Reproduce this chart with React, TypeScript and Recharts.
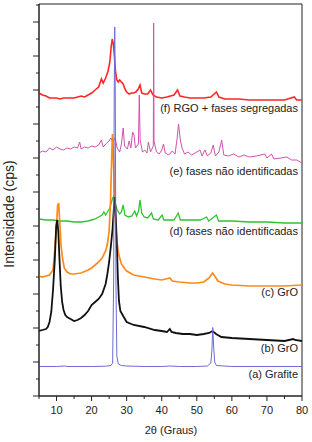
import React from 'react';
import { LineChart, Line, XAxis, YAxis, ReferenceArea } from 'recharts';

const FONT = '"Liberation Sans", Arial, Helvetica, sans-serif';
const INK = '#222';

// 2θ axis
const thetaTicks = [5, 10, 15, 20, 25, 30, 35, 40, 45, 50, 55, 60, 65, 70, 75, 80];
// intensity axis (no labels, arbitrary counts)
const intensityTicks = [0, 17, 34, 51, 68, 85, 102, 119, 136, 153, 170, 187, 204, 221, 238, 255, 272, 289, 306, 323, 340, 357, 374, 391];

// (a) Grafite
const grafiteTheta = [5, 10, 12.5, 13, 15, 20, 24, 25.5, 26, 26.3, 26.45, 26.6, 26.75, 26.95, 27.2, 27.6, 28.5, 30, 35, 40, 42.3, 45, 50, 53, 54, 54.3, 54.55, 54.8, 55.1, 55.6, 60, 70, 80];
const grafiteCps = [29.5, 29.5, 30, 29.5, 29.5, 29.5, 29.8, 30.5, 33, 120, 300, 369, 300, 110, 40, 32, 30.5, 30, 29.5, 29.5, 30, 29.5, 29.5, 30, 33, 45, 68.5, 50, 34, 30.5, 29.5, 29.5, 29.5];

// (b) GrO
const groBTheta = [5, 6, 7, 7.5, 8, 8.5, 9, 9.5, 9.9, 10.2, 10.5, 10.8, 11.2, 11.6, 12, 12.5, 13, 14, 15, 16, 17, 18, 19, 20, 21, 22, 23, 24, 24.5, 25, 25.5, 26, 26.3, 26.6, 26.9, 27.2, 27.5, 27.8, 28.2, 29, 30, 32, 35, 38, 40, 41.5, 42.3, 42.8, 44, 46, 48, 50, 52, 53.5, 54.5, 55.5, 57, 60, 65, 70, 75, 77.5, 78, 80];
const groBCps = [65, 66, 67, 69, 74, 84, 106, 136, 170, 176, 165, 140, 110, 94, 86, 81, 79, 77, 75, 76, 78, 81, 85, 91, 94, 97, 102, 112, 122, 134, 150, 168, 185, 199, 180, 150, 118, 95, 85, 80, 74, 71, 69, 66, 65, 64, 67, 64, 63, 62, 62, 61, 62, 63, 65, 62, 59, 58, 57, 56, 55, 57, 56, 55];

// (c) GrO
const groCTheta = [5, 6, 7, 8, 9, 9.5, 10, 10.3, 10.6, 10.9, 11.3, 11.7, 12.2, 13, 14, 15, 17, 19, 20, 21, 22, 23, 24, 24.5, 25, 25.4, 25.7, 25.95, 26.2, 26.5, 26.8, 27.2, 27.7, 28.5, 29.5, 30, 32, 35, 38, 40, 42.3, 43, 45, 48, 50, 52, 53.5, 54.5, 55.3, 56, 58, 60, 65, 70, 75, 80];
const groCCps = [120, 119, 120, 121, 126, 146, 170, 190, 193, 175, 150, 138, 128, 124, 122, 122, 123, 126, 128, 131, 134, 138, 145, 152, 165, 195, 235, 262, 240, 205, 175, 155, 142, 132, 127, 125, 121, 119, 117, 116, 118, 115, 114, 113, 113, 114, 118, 123, 119, 115, 112, 111, 110, 110, 110, 111];

// (d) fases não identificadas
const faseDTheta = [5, 7, 9, 11, 13, 15, 17, 19, 20, 21, 22, 23, 23.5, 24, 24.7, 25.2, 25.6, 26, 26.4, 26.8, 27.3, 28, 28.5, 29, 29.5, 30.5, 31.5, 32.3, 32.8, 33.4, 33.8, 34.3, 35, 36, 37.1, 37.6, 39, 40.1, 40.6, 42, 43.5, 44.7, 45.3, 47, 49, 51, 52.8, 53.4, 55.6, 56.2, 58, 60, 65, 70, 75, 80];
const faseDCps = [177, 176, 176, 175, 175, 174, 174, 175, 176, 177, 179, 181, 184, 181, 185, 188, 193, 198, 200, 192, 186, 182, 184, 191, 181, 179, 180, 185, 180, 185, 196, 183, 179, 178, 183, 177, 176, 181, 176, 176, 176, 183, 176, 176, 176, 176, 179, 175, 181, 175, 175, 175, 174, 174, 173, 173];

// (e) fases não identificadas
const faseETheta = [5, 6, 7, 8, 9, 10, 11, 12, 13, 14, 15, 16, 16.6, 17, 18, 19, 20, 21, 22, 22.8, 23.3, 24, 25, 25.5, 26, 26.7, 27.3, 28, 28.5, 29, 29.4, 30.2, 30.7, 31.2, 31.7, 32.1, 32.5, 33.35, 33.6, 33.85, 34.5, 35.2, 35.8, 36.2, 36.8, 37.6, 37.7, 37.8, 38.5, 39.3, 40, 40.5, 41, 42, 43, 43.8, 44.4, 44.8, 45.3, 45.8, 46.5, 47.5, 48.5, 49.5, 50.9, 51.5, 52.3, 53, 54, 54.7, 55.3, 56.3, 57.1, 57.7, 59, 60.5, 62, 63.5, 65, 67, 69.4, 70, 71.3, 72, 74, 75.7, 77, 78.5, 80];
const faseECps = [243, 245, 244, 248, 246, 249, 247, 246, 248, 247, 249, 248, 254, 247, 249, 248, 250, 249, 251, 256, 249, 252, 255, 258, 254, 258, 248, 244, 252, 268, 250, 247, 255, 248, 264, 261, 248, 252, 301, 256, 244, 246, 243, 254, 244, 250, 373, 255, 244, 242, 246, 252, 243, 241, 245, 242, 258, 272, 256, 248, 242, 244, 241, 243, 246, 240, 246, 240, 243, 251, 240, 244, 256, 241, 240, 242, 239, 241, 239, 240, 242, 238, 242, 237, 238, 239, 236, 236, 233];

// (f) RGO + fases segregadas
const rgoTheta = [5, 6, 7, 8, 9, 10, 11, 12, 13, 14, 15, 16, 17, 18, 19, 20, 21, 22, 22.8, 23.3, 24, 24.7, 25.2, 25.6, 25.9, 26.2, 26.5, 26.8, 27.2, 27.6, 28, 28.5, 29, 29.5, 30, 30.7, 31.3, 32, 32.6, 33.3, 33.8, 34.3, 35, 36, 36.8, 37.5, 38.5, 40, 41.5, 42.5, 43.5, 44.5, 45.2, 46.5, 48, 50, 52, 54, 55.6, 56.3, 58, 60, 62, 65, 68, 70, 73, 75, 77.8, 78.5, 80];
const rgoCps = [303, 301, 300, 298, 298, 298, 297, 298, 298, 298, 298, 299, 300, 299, 301, 303, 306, 309, 317, 313, 318, 325, 334, 350, 357, 352, 340, 325, 316, 314, 316, 314, 312, 307, 304, 302, 303, 303, 304, 307, 311, 303, 302, 302, 306, 301, 299, 298, 299, 300, 301, 306, 300, 299, 298, 298, 298, 299, 304, 299, 297, 297, 297, 296, 296, 296, 296, 296, 299, 296, 296];

const curveLabels = [
  { text: '(f) RGO + fases segregadas', y: 112 },
  { text: '(e) fases não identificadas', y: 175 },
  { text: '(d) fases não identificadas', y: 235 },
  { text: '(c) GrO', y: 296 },
  { text: '(b) GrO', y: 352 },
  { text: '(a) Grafite', y: 378 },
];

const toPoints = (xs: number[], ys: number[]) => xs.map((x, i) => ({ x, y: ys[i] }));

const series = [
  { name: 'f', data: toPoints(rgoTheta, rgoCps), color: '#ff2626', width: 1.6 },
  { name: 'e', data: toPoints(faseETheta, faseECps), color: '#d053ae', width: 1 },
  { name: 'd', data: toPoints(faseDTheta, faseDCps), color: '#2ec42e', width: 1.3 },
  { name: 'c', data: toPoints(groCTheta, groCCps), color: '#ff8a1a', width: 1.7 },
  { name: 'b', data: toPoints(groBTheta, groBCps), color: '#111111', width: 1.8 },
  { name: 'a', data: toPoints(grafiteTheta, grafiteCps), color: '#6c6cd4', width: 1 },
];

const renderXTick = (props: any) => {
  const { x, y, payload } = props;
  const major = payload.value % 10 === 0;
  return (
    <g>
      <line x1={x} x2={x} y1={y} y2={y + (major ? 5 : 3)} stroke={INK} />
      {major && (
        <text x={x} y={y + 18} textAnchor="middle" fontSize={11} fontFamily={FONT} fill={INK}>
          {payload.value}
        </text>
      )}
    </g>
  );
};

const renderYTick = (props: any) => {
  const { x, y, payload } = props;
  const major = payload.value % 34 === 0;
  return <line x1={x} x2={x - (major ? 6 : 3)} y1={y} y2={y} stroke={INK} />;
};

const App: React.FC = () => {
  return (
    <div style={{ position: 'absolute', left: 0, top: 0, width: 312, height: 442, background: '#fff' }}>
      <LineChart width={312} height={442} margin={{ top: 4, right: 10, left: 0, bottom: 0 }}>
        <XAxis
          type="number"
          dataKey="x"
          domain={[5, 80]}
          ticks={thetaTicks}
          interval={0}
          height={46}
          tickSize={0}
          tickMargin={0}
          tickLine={false}
          tick={renderXTick}
          axisLine={{ stroke: INK }}
          allowDataOverflow
        />
        <YAxis
          type="number"
          domain={[0, 392]}
          ticks={intensityTicks}
          interval={0}
          width={39}
          tickSize={0}
          tickMargin={0}
          tickLine={false}
          tick={renderYTick}
          axisLine={{ stroke: INK }}
          allowDataOverflow
        />
        {series.map((s) => (
          <Line
            key={s.name}
            data={s.data}
            dataKey="y"
            type="linear"
            stroke={s.color}
            strokeWidth={s.width}
            dot={false}
            isAnimationActive={false}
          />
        ))}
        <ReferenceArea x1={5} x2={80} y1={0} y2={392} fill="none" stroke={INK} strokeWidth={1} ifOverflow="visible" />
      </LineChart>
      <svg
        width={312}
        height={442}
        style={{ position: 'absolute', left: 0, top: 0, pointerEvents: 'none' }}
      >
        {curveLabels.map((l) => (
          <text key={l.text} x={298} y={l.y} textAnchor="end" fontSize={11} fontFamily={FONT} fill={INK}>
            {l.text}
          </text>
        ))}
        <text x={171} y={434} textAnchor="middle" fontSize={11} fontFamily={FONT} fill={INK}>
          2θ (Graus)
        </text>
        <text
          x={14}
          y={214}
          textAnchor="middle"
          fontSize={14}
          fontFamily={FONT}
          fill={INK}
          transform="rotate(-90 14 214)"
        >
          Intensidade (cps)
        </text>
      </svg>
    </div>
  );
};

export default App;
